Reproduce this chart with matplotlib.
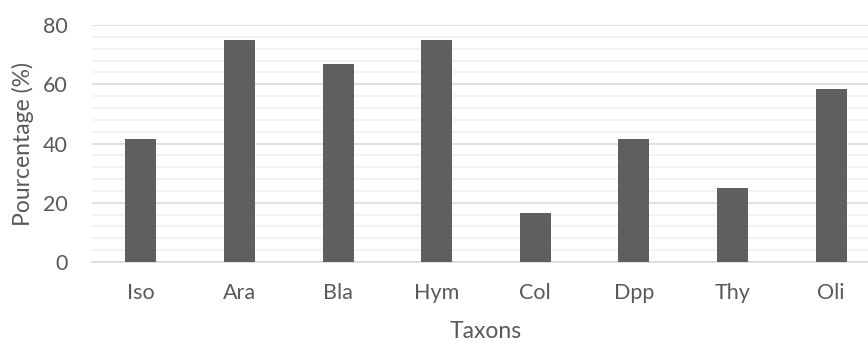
import matplotlib
matplotlib.use("Agg")
import matplotlib.pyplot as plt
from matplotlib.ticker import MultipleLocator

taxa = ["Iso", "Ara", "Bla", "Hym", "Col", "Dpp", "Thy", "Oli"]
pourcentage = [41.67, 75.0, 66.67, 75.0, 16.67, 41.67, 25.0, 58.33]

plt.rcParams["font.family"] = ["Lato", "DejaVu Sans"]
text_color = "#595959"

fig = plt.figure(figsize=(8.68, 3.41), dpi=100)
W, H = 868, 341
left, right = 91.5, 880.5
top, bottom = 25, 262
ax = fig.add_axes([left / W, 1 - bottom / H, (right - left) / W, (bottom - top) / H])

x = range(len(taxa))
ax.bar(x, pourcentage, width=0.315, color="#5f5f5f", zorder=3)

ax.set_xlim(-0.5, len(taxa) - 0.5)
ax.set_ylim(0, 80)
ax.yaxis.set_major_locator(MultipleLocator(20))
ax.yaxis.set_minor_locator(MultipleLocator(4))
ax.grid(axis="y", which="major", color="#d9d9d9", linewidth=1.1, zorder=1)
ax.grid(axis="y", which="minor", color="#f0f0f0", linewidth=1.1, zorder=0)

for s in ["top", "right", "left"]:
    ax.spines[s].set_visible(False)
ax.spines["bottom"].set_color("#d9d9d9")
ax.spines["bottom"].set_linewidth(1.1)

ax.set_xticks(list(x))
ax.set_xticklabels(taxa)
ax.tick_params(axis="both", which="both", length=0, colors=text_color, labelsize=15.5)
ax.tick_params(axis="x", pad=15)
ax.tick_params(axis="y", pad=17)

ax.set_ylabel("Pourcentage (%)", color=text_color, fontsize=16.5)
ax.yaxis.set_label_coords(-(left - 23) / (right - left), 0.5)
ax.set_xlabel("Taxons", color=text_color, fontsize=16.5)
# keep the x-axis title centred on the visible figure width
ax.xaxis.set_label_coords((486 - left) / (right - left), -(332 - bottom) / (bottom - top))
ax.xaxis.label.set_va("center")
ax.yaxis.label.set_va("center")

fig.savefig("out.png", dpi=100)
